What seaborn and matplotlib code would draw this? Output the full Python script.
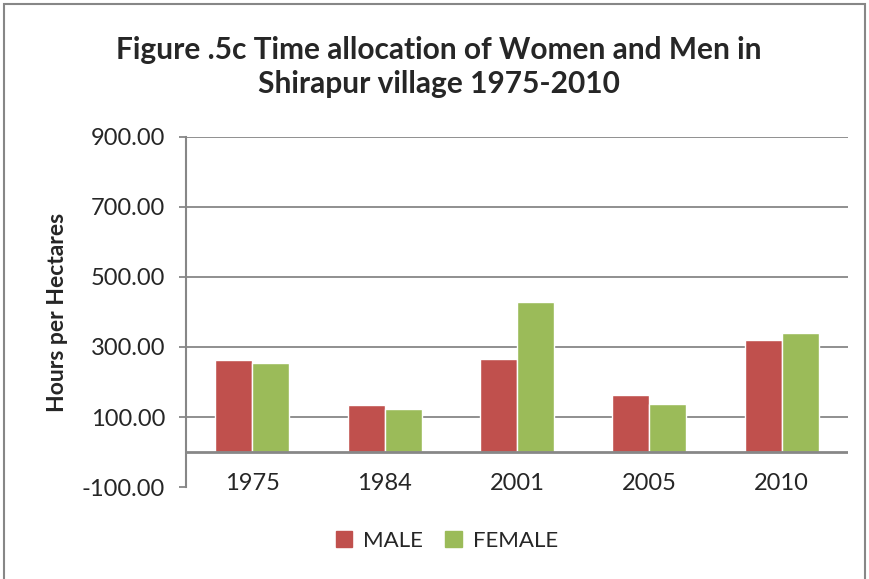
import matplotlib
matplotlib.use("Agg")
import matplotlib.pyplot as plt
from matplotlib.patches import Rectangle
import seaborn as sns
import pandas as pd

years = ["1975", "1984", "2001", "2005", "2010"]
male = [262, 133, 267, 164, 319]
female = [255, 122, 430, 138, 340]
series = ["MALE", "FEMALE"]
colors = ["#C0504D", "#9BBB59"]
y_ticks = [-100, 100, 300, 500, 700, 900]

df = pd.DataFrame({
    "year": years * 2,
    "hours": male + female,
    "sex": [series[0]] * len(years) + [series[1]] * len(years),
})

sns.set_style("white")
plt.rcParams["font.family"] = ["Lato", "DejaVu Sans"]
grey = "#878787"

fig = plt.figure(figsize=(8.7, 5.79), dpi=100)
ax = fig.add_axes([186 / 870, 1 - 487 / 579, (848 - 186) / 870, (487 - 137) / 579])

sns.barplot(data=df, x="year", y="hours", hue="sex", palette=colors, width=0.56,
            saturation=1, ax=ax, legend=True, zorder=3)

ax.set_ylim(-100, 900)
ax.set_yticks(y_ticks)
ax.set_yticklabels([f"{v:.2f}" for v in y_ticks], fontsize=17)
for v in y_ticks[1:]:
    ax.axhline(v, color=grey, lw=1.3, zorder=1)
ax.axhline(0, color=grey, lw=2, zorder=4)

for s in ["top", "right", "bottom"]:
    ax.spines[s].set_visible(False)
ax.spines["left"].set_color(grey)
ax.spines["left"].set_linewidth(1.5)
ax.tick_params(axis="y", length=5, width=1.3, color=grey, left=True, pad=10)
ax.tick_params(axis="x", length=0, pad=-10, labelsize=17)
ax.set_xlabel("")
ax.set_ylabel("Hours per Hectares", fontsize=16.5, fontweight="bold", labelpad=10)

fig.text(439 / 870, 1 - 67 / 579,
         "Figure .5c Time allocation of Women and Men in\nShirapur village 1975-2010",
         fontsize=21.5, fontweight="bold", linespacing=1.3, ha="center", va="center")

ax.get_legend().remove()
handles = [Rectangle((0, 0), 1, 1, color=c) for c in colors]
fig.legend(handles, series, loc="center", bbox_to_anchor=(447 / 870, 1 - 541 / 579),
           ncol=2, frameon=False, fontsize=16, handlelength=0.75, handleheight=0.75,
           handletextpad=0.5, columnspacing=1.0)

fig.patches.append(Rectangle((4 / 870, -0.05), 861 / 870, 1.05 - 4 / 579, transform=fig.transFigure,
                             fill=False, edgecolor=grey, lw=1.5))

fig.savefig("out.png", dpi=100)
